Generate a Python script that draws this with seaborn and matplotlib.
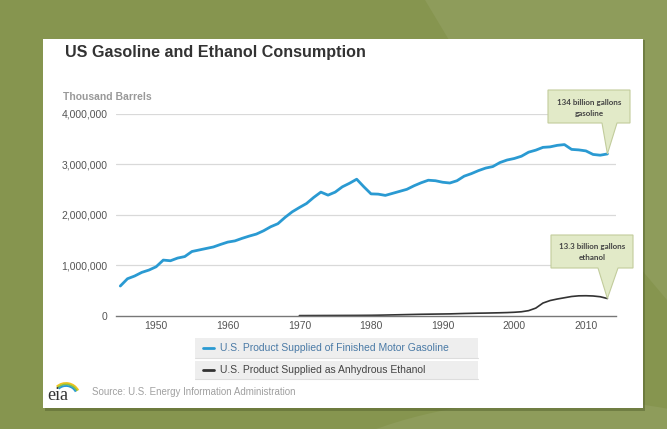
import numpy as np
import pandas as pd
import matplotlib
matplotlib.use("Agg")
import matplotlib.pyplot as plt
import seaborn as sns
from matplotlib.patches import Rectangle, Polygon, Arc, Ellipse
from matplotlib.lines import Line2D

# ---------------- data ----------------
gas_years = list(range(1945, 2014))
gas_values = [587000, 731000, 785000, 857000, 903000, 968000, 1100000, 1087000, 1140000, 1170000,
              1270000, 1300000, 1330000, 1360000, 1410000, 1456000, 1480000, 1530000, 1575000, 1615000,
              1680000, 1760000, 1820000, 1945000, 2055000, 2140000, 2220000, 2340000, 2445000, 2385000,
              2445000, 2550000, 2620000, 2700000, 2550000, 2410000, 2405000, 2380000, 2420000, 2460000,
              2500000, 2570000, 2630000, 2680000, 2670000, 2640000, 2625000, 2670000, 2760000, 2810000,
              2870000, 2920000, 2950000, 3030000, 3080000, 3110000, 3155000, 3235000, 3275000, 3330000,
              3340000, 3370000, 3385000, 3290000, 3280000, 3260000, 3190000, 3175000, 3200000]
eth_years = list(range(1970, 2014))
eth_values = [2000, 2500, 3000, 3500, 4000, 4500, 5000, 5500, 6000, 7000,
              8000, 10000, 13000, 16000, 19000, 22000, 25000, 28000, 30000, 32000,
              34000, 36000, 40000, 44000, 47000, 50000, 52000, 55000, 58000, 62000,
              68000, 78000, 100000, 150000, 250000, 300000, 330000, 355000, 380000, 393000,
              395000, 390000, 375000, 340000]
series_labels = ["U.S. Product Supplied of Finished Motor Gasoline",
                 "U.S. Product Supplied as Anhydrous Ethanol"]
x_ticks = [1950, 1960, 1970, 1980, 1990, 2000, 2010]
y_ticks = [0, 1000000, 2000000, 3000000, 4000000]
y_tick_labels = ["0", "1,000,000", "2,000,000", "3,000,000", "4,000,000"]
title = "US Gasoline and Ethanol Consumption"
y_unit = "Thousand Barrels"
callout_gas = "134 billion gallons\ngasoline"
callout_eth = "13.3 billion gallons\nethanol"
source = "Source: U.S. Energy Information Administration"

gas_df = pd.DataFrame({"year": gas_years, "value": gas_values})
eth_df = pd.DataFrame({"year": eth_years, "value": eth_values})

# ---------------- style ----------------
sns.set_theme(style="white")
plt.rcParams["font.family"] = ["Liberation Sans", "DejaVu Sans"]

W, H = 667, 429
fig = plt.figure(figsize=(W / 100, H / 100), dpi=100)
fig.patch.set_facecolor("#86954f")

def fx(px):
    return px / W

def fy(py):
    return 1 - py / H

# background lighter areas
fig.add_artist(Polygon([[fx(425), fy(0)], [fx(667), fy(0)], [fx(667), fy(300)], [fx(452), fy(45)]],
                       closed=True, transform=fig.transFigure, facecolor="#8e9c5b", edgecolor="none", zorder=0))
fig.add_artist(Ellipse((fx(560), fy(560)), 0.95, 0.75, transform=fig.transFigure,
                       facecolor="#8e9c5b", edgecolor="none", zorder=0))

# card shadow + card
fig.add_artist(Rectangle((fx(45), fy(411)), fx(600), 371 / H, transform=fig.transFigure,
                         facecolor="#5d6a34", edgecolor="none", alpha=0.6, zorder=0.5))
fig.add_artist(Rectangle((fx(43), fy(408)), fx(600), 369 / H, transform=fig.transFigure,
                         facecolor="white", edgecolor="none", zorder=0.6))

# ---------------- axes ----------------
ax = fig.add_axes([fx(116), fy(315.7), fx(500), (315.7 - 113.5) / H])
ax.set_facecolor("none")
ax.set_zorder(2)

sns.lineplot(data=gas_df, x="year", y="value", ax=ax, color="#2a9ad2", lw=2.0)
sns.lineplot(data=eth_df, x="year", y="value", ax=ax, color="#333333", lw=1.2)

ax.set_xlim(1944.4, 2014.2)
ax.set_ylim(0, 4000000)
ax.set_xticks(x_ticks)
ax.set_xticklabels([str(t) for t in x_ticks])
ax.set_yticks(y_ticks)
ax.set_yticklabels(y_tick_labels)
ax.set_xlabel("")
ax.set_ylabel("")
ax.tick_params(axis="both", length=0, labelsize=7.5, labelcolor="#555555")
ax.tick_params(axis="y", pad=6)
ax.tick_params(axis="x", pad=4)
for yv in y_ticks[1:]:
    ax.axhline(yv, color="#d9d9d9", lw=0.9, zorder=0)
for s in ["top", "right", "left"]:
    ax.spines[s].set_visible(False)
ax.spines["bottom"].set_color("#777777")
ax.spines["bottom"].set_linewidth(1.0)

# ---------------- texts ----------------
fig.text(fx(65), fy(53), title, fontsize=11.6, fontweight="bold", color="#333333", va="center", ha="left")
fig.text(fx(63), fy(97), y_unit, fontsize=7.5, fontweight="bold", color="#999999", va="center", ha="left")

# ---------------- callouts ----------------
def callout(box, base, data_pt, text, line_y):
    x0, y0, x1, y1 = box
    bl, br = base
    tip = fig.transFigure.inverted().transform(ax.transData.transform(data_pt))
    verts = [[fx(x0), fy(y0)], [fx(x1), fy(y0)], [fx(x1), fy(y1)], [fx(br), fy(y1)],
             list(tip), [fx(bl), fy(y1)], [fx(x0), fy(y1)]]
    fig.add_artist(Polygon(verts, closed=True, transform=fig.transFigure,
                           facecolor="#e2eac8", edgecolor="#c2cc9c", lw=0.8, zorder=3))
    lines = text.split("\n")
    for ln, yy in zip(lines, line_y):
        fig.text(fx((x0 + x1) / 2), fy(yy), ln, fontsize=5.8, fontweight="bold", color="#444444",
                 ha="center", va="center", family=["Lato", "DejaVu Sans"], zorder=4)

callout((548, 90, 630, 123), (602, 617), (gas_years[-1], gas_values[-1]), callout_gas, (102, 113))
callout((551, 235, 633, 268), (598, 618), (eth_years[-1], eth_values[-1]), callout_eth, (246.5, 258))

# ---------------- legend ----------------
leg_colors = ["#2a9ad2", "#333333"]
leg_text_colors = ["#4a7aa6", "#444444"]
leg_boxes = [(195, 338, 478, 358), (195, 361, 478, 379)]
for lab, c, tc, (x0, y0, x1, y1) in zip(series_labels, leg_colors, leg_text_colors, leg_boxes):
    fig.add_artist(Rectangle((fx(x0), fy(y1)), fx(x1 - x0), (y1 - y0) / H, transform=fig.transFigure,
                             facecolor="#eeeeee", edgecolor="none", zorder=1))
    fig.add_artist(Line2D([fx(x0), fx(x1)], [fy(y1), fy(y1)], transform=fig.transFigure,
                          color="#dddddd", lw=0.8, zorder=1))
    yc = (y0 + y1) / 2
    fig.add_artist(Line2D([fx(203), fx(214)], [fy(yc), fy(yc)], transform=fig.transFigure,
                          color=c, lw=2.0, zorder=2))
    fig.text(fx(220), fy(yc), lab, fontsize=7.5, color=tc, va="center", ha="left", zorder=2)

# ---------------- source / logo ----------------
fig.text(fx(47), fy(395), "eia", fontsize=13, color="#333333", family=["Liberation Serif", "DejaVu Serif"],
         va="center", ha="left", zorder=2)
for r, col in zip([14, 12.5, 11], ["#f2c21b", "#8cc23f", "#2a9ad2"]):
    fig.add_artist(Arc((fx(66), fy(397)), 2 * r / W, 2 * r / H, theta1=40, theta2=120,
                       transform=fig.transFigure, color=col, lw=1.3, zorder=2))
fig.text(fx(92), fy(392), source, fontsize=7, color="#a0a0a0", va="center", ha="left", zorder=2)

fig.savefig("out.png", dpi=100, facecolor=fig.get_facecolor())
